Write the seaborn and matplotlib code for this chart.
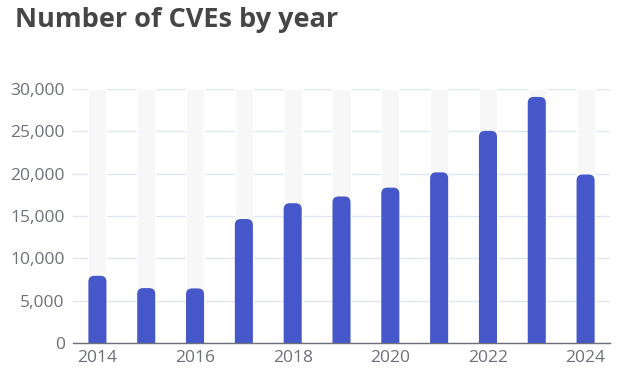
import matplotlib
matplotlib.use("Agg")
import matplotlib.pyplot as plt
import seaborn as sns
import pandas as pd
from matplotlib.patches import FancyBboxPatch
from matplotlib.transforms import IdentityTransform
from matplotlib.ticker import FuncFormatter, FixedLocator

years = ["2014", "2015", "2016", "2017", "2018", "2019", "2020", "2021", "2022", "2023", "2024"]
cves = [7937, 6487, 6447, 14643, 16509, 17305, 18350, 20155, 25059, 29066, 19900]
y_max = 30000
title = "Number of CVEs by year"

df = pd.DataFrame({"year": years, "cves": cves, "bg": [y_max] * len(years)})

sns.set_theme(style="white")
plt.rcParams["font.family"] = ["Open Sans", "DejaVu Sans"]

W, H = 617, 378
fig = plt.figure(figsize=(W / 100, H / 100), dpi=100)
ax = fig.add_axes([73 / W, 1 - 343 / H, (610 - 73) / W, (343 - 89) / H])

bar_w = 0.37
sns.barplot(data=df, x="year", y="bg", color="#f7f7f8", width=bar_w, ax=ax,
            saturation=1, zorder=1)
n_bg = len(ax.patches)
sns.barplot(data=df, x="year", y="cves", color="#4658c9", width=bar_w, ax=ax,
            saturation=1, zorder=2)

ax.set_xlim(-0.5, len(years) - 0.5)
ax.set_ylim(0, y_max)

# rounded tops for the value bars (geometry taken from seaborn's bars, drawn in pixels)
r_px = 6
value_bars = list(ax.patches)[n_bg:]
for p in value_bars:
    x, w, h = p.get_x(), p.get_width(), p.get_height()
    fc = p.get_facecolor()
    p.set_visible(False)
    (x0, y0), (x1, y1) = ax.transData.transform([(x, 0), (x + w, h)])
    fb = FancyBboxPatch((x0, y0 - 2 * r_px), x1 - x0, (y1 - y0) + 2 * r_px,
                        boxstyle=f"round,pad=0,rounding_size={r_px}",
                        transform=IdentityTransform(),
                        facecolor=fc, edgecolor="none", zorder=2)
    ax.add_artist(fb)
    fb.set_clip_box(ax.bbox)

# grid
ax.yaxis.set_major_locator(FixedLocator(range(0, y_max + 1, 5000)))
ax.yaxis.set_major_formatter(FuncFormatter(lambda v, _: f"{int(v):,}"))
ax.grid(axis="y", color="#e0e6f1", linewidth=1, zorder=0)
ax.set_axisbelow(True)

# x ticks at category boundaries, labels at even-year centres
ax.xaxis.set_major_locator(FixedLocator([-0.5, 1.5, 3.5, 5.5, 7.5, 9.5, 10.5]))
ax.xaxis.set_major_formatter(FuncFormatter(lambda v, _: ""))
ax.xaxis.set_minor_locator(FixedLocator(list(range(0, len(years), 2))))
ax.xaxis.set_minor_formatter(FuncFormatter(lambda v, _: years[int(round(v))]))
ax.tick_params(axis="x", which="major", length=5, width=1, color="#6e7079", direction="out")
ax.tick_params(axis="x", which="minor", length=0, labelsize=12.5, labelcolor="#6e7079", pad=5)
ax.tick_params(axis="y", length=0, labelsize=12.5, labelcolor="#6e7079", pad=6)

for s in ["top", "right", "left"]:
    ax.spines[s].set_visible(False)
ax.spines["bottom"].set_color("#6e7079")
ax.spines["bottom"].set_linewidth(1)
ax.spines["bottom"].set_zorder(3)
ax.set_xlabel("")
ax.set_ylabel("")

fig.text(15 / W, 1 - 20 / H, title, fontsize=19.5, fontweight="bold", color="#464646",
         ha="left", va="center")

fig.savefig("out.png", dpi=100, facecolor="white")
